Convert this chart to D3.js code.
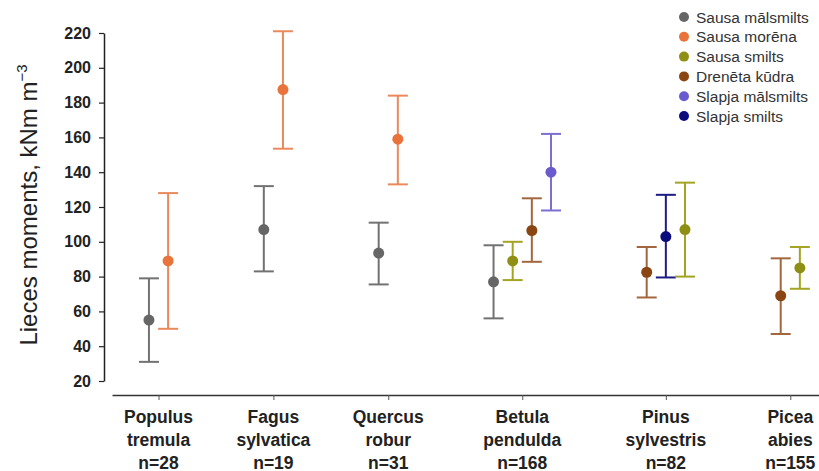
<!DOCTYPE html>
<html>
<head>
<meta charset="utf-8">
<script src="https://cdn.jsdelivr.net/npm/d3@7"></script>
<style>
  body { margin: 0; background: #fff; }
  svg { font-family: "Liberation Sans", Arial, sans-serif; }
</style>
</head>
<body>
<script>
// species on the x axis (two lines each) and sample size
const speciesLine1 = ["Populus", "Fagus", "Quercus", "Betula", "Pinus", "Picea"];
const speciesLine2 = ["tremula", "sylvatica", "robur", "pendulda", "sylvestris", "abies"];
const speciesN = [28, 19, 31, 168, 82, 155];

// soil types (legend)
const soils = ["Sausa mālsmilts", "Sausa morēna", "Sausa smilts", "Drenēta kūdra", "Slapja mālsmilts", "Slapja smilts"];
const dotColors = ["#666666", "#e8743b", "#8f8f16", "#8b4513", "#6a5acd", "#0b0b7e"];
const barColors = ["#727272", "#ea8a5c", "#a3a324", "#a3673f", "#7b70d2", "#1c1c84"];

// which soils appear in each species group, in drawing order
const groupSoils = [[0, 1], [0, 1], [0, 1], [0, 2, 3, 4], [3, 5, 2], [3, 2]];
const means = [[55, 89], [107, 187.5], [93.5, 159], [77, 89, 106.5, 140], [82.5, 103, 107], [69, 85]];
const lower = [[31, 50], [83, 153.5], [75.5, 133], [56, 78, 88.5, 118], [68, 79.5, 80], [47, 73]];
const upper = [[79, 128], [132, 221], [111, 184], [98, 100, 125, 162], [97, 127, 134], [90.5, 97]];

const yTicks = [20, 40, 60, 80, 100, 120, 140, 160, 180, 200, 220];

const W = 819, H = 471;
const svg = d3.select("body").append("svg").attr("width", W).attr("height", H);

// slot positions: groups separated by a gap of 5 slots
let points = [];
let groupCenters = [];
let slot = 0;
groupSoils.forEach((g, gi) => {
    let slots = [];
    g.forEach((s, si) => {
        points.push({ slot: slot, soil: s, mean: means[gi][si], lo: lower[gi][si], hi: upper[gi][si] });
        slots.push(slot);
        slot++;
    });
    groupCenters.push(d3.mean(slots));
    slot += 4;
});

const x = d3.scaleLinear().domain([-1.93, 35]).range([112, 819]);
const y = d3.scaleLinear().domain([20, 220]).range([381, 33]);

// y axis
const yAxis = svg.append("g")
    .attr("transform", "translate(104,0)")
    .call(d3.axisLeft(y).tickValues(yTicks).tickSize(5).tickPadding(8).tickSizeOuter(0));
yAxis.select(".domain").attr("stroke", "#222").attr("stroke-width", 1.5);
yAxis.selectAll(".tick line").attr("stroke", "#222").attr("stroke-width", 1.2);
yAxis.selectAll(".tick text")
    .attr("font-size", 16).attr("font-weight", "bold").attr("fill", "#222")
    .attr("font-family", "'Liberation Sans', Arial, sans-serif");

// x axis
const xAxis = svg.append("g")
    .attr("transform", "translate(0,395)")
    .call(d3.axisBottom(x).tickValues(groupCenters).tickSize(5).tickFormat("").tickSizeOuter(0));
xAxis.select(".domain").attr("stroke", "#333").attr("stroke-width", 1.5);
xAxis.selectAll(".tick line").attr("stroke", "#555").attr("stroke-width", 1);

// x labels
const xl = svg.append("g")
    .attr("font-size", 17.5).attr("font-weight", "bold").attr("fill", "#222")
    .attr("text-anchor", "middle");
groupCenters.forEach((c, i) => {
    xl.append("text").attr("x", x(c)).attr("y", 423).text(speciesLine1[i]);
    xl.append("text").attr("x", x(c)).attr("y", 446).text(speciesLine2[i]);
    xl.append("text").attr("x", x(c)).attr("y", 469).text("n=" + speciesN[i]);
});

// y title
const yt = svg.append("text")
    .attr("transform", "translate(37,205) rotate(-90)")
    .attr("text-anchor", "middle")
    .attr("font-size", 24).attr("fill", "#222");
yt.append("tspan").text("Lieces moments, kNm m");
yt.append("tspan").attr("dy", -10).attr("font-size", 15).text("−3");

// error bars
const capHalf = 10;
const eb = svg.append("g").selectAll("g").data(points).enter().append("g");
eb.append("line")
    .attr("x1", d => x(d.slot)).attr("x2", d => x(d.slot))
    .attr("y1", d => y(d.lo)).attr("y2", d => y(d.hi))
    .attr("stroke", d => barColors[d.soil]).attr("stroke-width", 2);
eb.append("line")
    .attr("x1", d => x(d.slot) - capHalf).attr("x2", d => x(d.slot) + capHalf)
    .attr("y1", d => y(d.hi)).attr("y2", d => y(d.hi))
    .attr("stroke", d => barColors[d.soil]).attr("stroke-width", 2);
eb.append("line")
    .attr("x1", d => x(d.slot) - capHalf).attr("x2", d => x(d.slot) + capHalf)
    .attr("y1", d => y(d.lo)).attr("y2", d => y(d.lo))
    .attr("stroke", d => barColors[d.soil]).attr("stroke-width", 2);
eb.append("circle")
    .attr("cx", d => x(d.slot)).attr("cy", d => y(d.mean)).attr("r", 5.5)
    .attr("fill", d => dotColors[d.soil]);

// legend
const lg = svg.append("g").attr("transform", "translate(684,17)");
soils.forEach((s, i) => {
    lg.append("circle").attr("cx", 0).attr("cy", i * 19.8).attr("r", 5).attr("fill", dotColors[i]);
    lg.append("text").attr("x", 12).attr("y", i * 19.8 + 5.5)
        .attr("font-size", 15.5).attr("fill", "#333").text(s);
});
</script>
</body>
</html>
